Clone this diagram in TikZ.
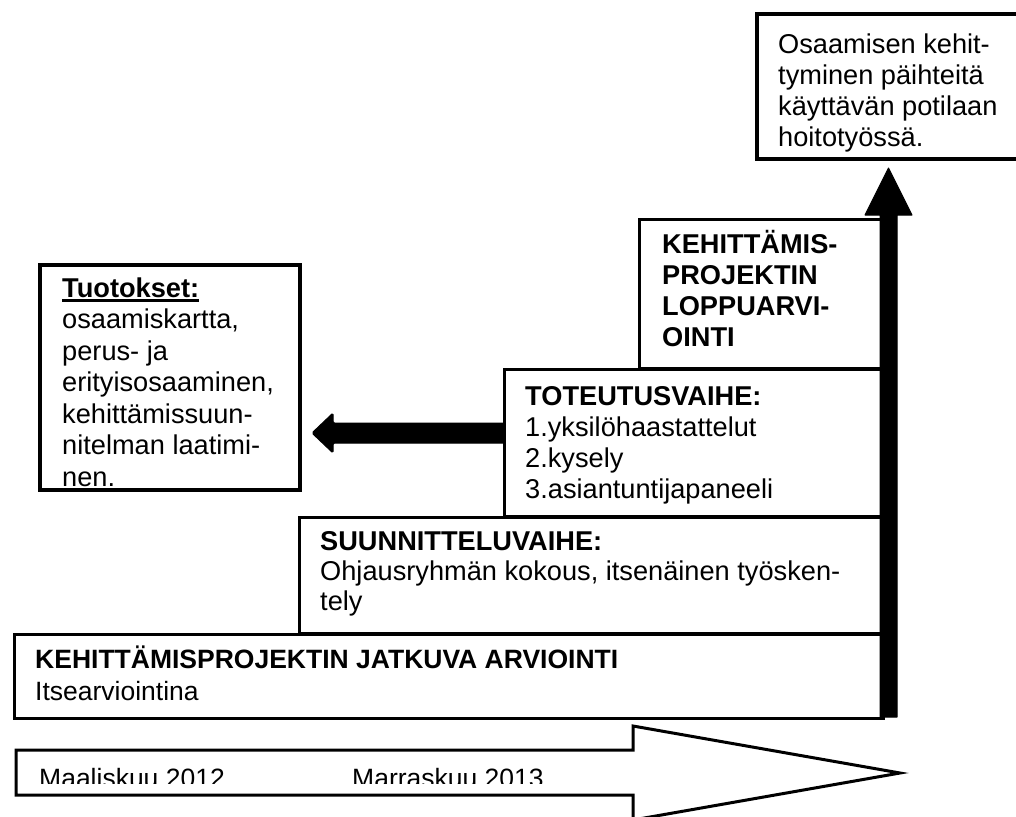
\documentclass[tikz,border=0pt]{standalone}
\usepackage{fontspec}
\setmainfont{Liberation Sans}
\newcommand\thickul[1]{\setbox0\hbox{#1}\rlap{\rule[-4.5pt]{\wd0}{2.6pt}}\box0}
\begin{document}
\begin{tikzpicture}[x=1pt,y=-1pt,
  box/.style={draw, line width=3pt, fill=white, inner sep=0pt, anchor=north west},
  thickbox/.style={box, line width=4pt},
  txt/.style={anchor=base west, inner sep=0pt, align=left, font=\fontsize{27.2}{31}\selectfont},
  blockarrow/.style={fill=black, draw=black, line width=1pt, line join=round}]
\useasboundingbox (0,0) rectangle (1016,816);
% boxes
\node[thickbox, minimum width=285pt, minimum height=145pt] (result) at (755,12) {};
\node[thickbox, minimum width=260pt, minimum height=225pt] (tuot) at (38,263) {};
\node[box, minimum width=244pt, minimum height=149pt] (loppu) at (638,218) {};
\node[box, minimum width=379pt, minimum height=147pt] (tot) at (503,368) {};
\node[box, minimum width=584pt, minimum height=116pt] (suun) at (298,516) {};
\node[box, minimum width=869pt, minimum height=84pt] (jatk) at (13,633) {};
% vertical arrow
\fill[blockarrow] (880,717) -- (880,215) -- (865,215) -- (888.5,168) -- (912,215) -- (897,215) -- (897,717) -- cycle;
% left arrow
\fill[blockarrow, rounded corners=1.5pt] (505,423) -- (333,423) -- (333,413) -- (312,433) -- (333,453) -- (333,443) -- (505,443) -- cycle;
% bottom arrow
\draw[line width=3pt, line join=miter, fill=white] (16,750) -- (633,750) -- (633,726) -- (900,773) -- (633,820) -- (633,795) -- (16,795) -- cycle;
% texts (anchor = baseline of last line)
\node[txt] (resultT) at (778,146) {Osaamisen kehit-\\tyminen päihteitä\\käyttävän potilaan\\hoitotyössä.};
\node[txt, font=\fontsize{27.2}{31}\selectfont\bfseries] (loppuT) at (662,346) {KEHITTÄMIS-\\PROJEKTIN\\LOPPUARVI-\\OINTI};
\node[txt] (totT) at (525,498) {\textbf{TOTEUTUSVAIHE:}\\1.yksilöhaastattelut\\2.kysely\\3.asiantuntijapaneeli};
\node[txt, font=\fontsize{27.2}{31.5}\selectfont] (tuotT) at (62,486) {\thickul{\textbf{Tuotokset:}}\\osaamiskartta,\\perus- ja\\erityisosaaminen,\\kehittämissuun-\\nitelman laatimi-\\nen.};
\node[txt, font=\fontsize{27.2}{30}\selectfont] (suunT) at (320,610) {\textbf{SUUNNITTELUVAIHE:}\\Ohjausryhmän kokous, itsenäinen työsken-\\tely};
\node[txt, font=\fontsize{26.5}{32}\selectfont] (jatkT) at (35,700) {\textbf{KEHITTÄMISPROJEKTIN JATKUVA ARVIOINTI}\\Itsearviointina};
\begin{scope}
\clip (0,0) rectangle (1016,783);
\node[txt, font=\fontsize{26.5}{31}\selectfont] (startT) at (39,787) {Maaliskuu 2012};
\node[txt, font=\fontsize{26.5}{31}\selectfont] (endT) at (352,787) {Marraskuu 2013};
\end{scope}
\end{tikzpicture}
\end{document}
